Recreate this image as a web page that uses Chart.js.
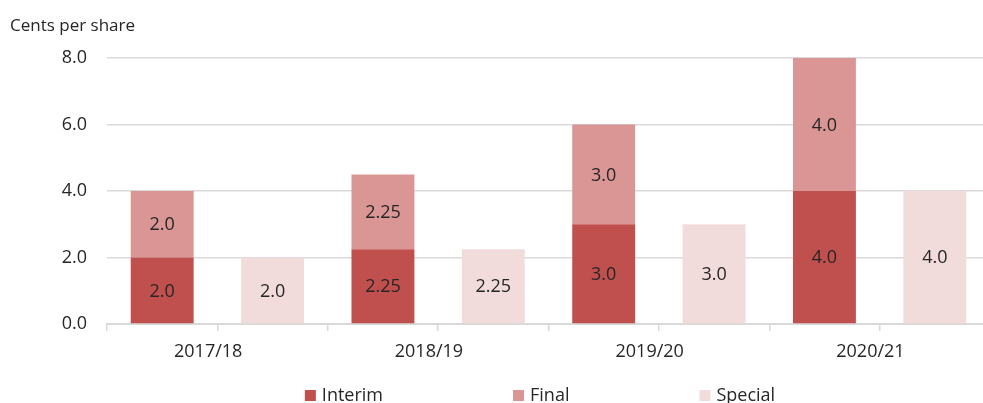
<!DOCTYPE html>
<html>
<head>
<meta charset="utf-8">
<script src="https://cdn.jsdelivr.net/npm/chart.js@4.4.1/dist/chart.umd.min.js"></script>
<style>
  html, body { margin: 0; padding: 0; background: #fff; overflow: hidden; }
  #wrap { width: 983px; height: 403px; overflow: hidden; position: relative; }
  #dividends { display: block; }
</style>
</head>
<body>
<div id="wrap"><canvas id="dividends" width="993" height="420"></canvas></div>
<script>
var years = ['2017/18', '2018/19', '2019/20', '2020/21'];
var interim = [2.0, 2.25, 3.0, 4.0];
var finalDiv = [2.0, 2.25, 3.0, 4.0];
var special = [2.0, 2.25, 3.0, 4.0];
var yTicks = [0, 2, 4, 6, 8];

var seriesNames = ['Interim', 'Final', 'Special'];
var seriesColors = ['#C0504D', '#DA9694', '#F2DCDB'];
var textColor = '#262626';
var gridColor = '#d9d9d9';

Chart.defaults.font.family = '"Open Sans", "Noto Sans", sans-serif';
Chart.defaults.font.size = 18;
Chart.defaults.color = textColor;

// each year gets two slots: the stacked interim/final bar, then the special bar
var slots = [];
var interimSlots = [], finalSlots = [], specialSlots = [];
years.forEach(function (y, i) {
    slots.push(y, '');
    interimSlots.push(interim[i], null);
    finalSlots.push(finalDiv[i], null);
    specialSlots.push(null, special[i]);
});

var fmt = function (v) {
    return (Math.round(v * 10) !== v * 10) ? v.toFixed(2) : v.toFixed(1);
};

var labelPlugin = {
    id: 'barLabels',
    afterDatasetsDraw: function (chart) {
        var ctx = chart.ctx;
        ctx.save();
        ctx.font = '18px "Open Sans", "Noto Sans", sans-serif';
        ctx.fillStyle = textColor;
        ctx.textAlign = 'center';
        ctx.textBaseline = 'middle';
        chart.data.datasets.forEach(function (ds, i) {
            chart.getDatasetMeta(i).data.forEach(function (bar, j) {
                var v = ds.data[j];
                if (v == null) return;
                var c = bar.getCenterPoint();
                ctx.fillText(fmt(v), c.x, c.y + 1);
            });
        });
        ctx.restore();
    },
    afterDraw: function (chart) {
        var ctx = chart.ctx;
        ctx.save();
        // axis title
        ctx.font = '17px "Open Sans", "Noto Sans", sans-serif';
        ctx.fillStyle = textColor;
        ctx.textAlign = 'left';
        ctx.textBaseline = 'alphabetic';
        ctx.fillText('Cents per share', 10, 31);

        // legend
        ctx.font = '18px "Open Sans", "Noto Sans", sans-serif';
        var box = 11, gap = 6, spacing = 130;
        var widths = seriesNames.map(function (n) { return box + gap + ctx.measureText(n).width; });
        var total = widths.reduce(function (a, b) { return a + b; }, 0) + spacing * (widths.length - 1);
        var x = 540 - total / 2;
        seriesNames.forEach(function (n, i) {
            ctx.fillStyle = seriesColors[i];
            ctx.fillRect(x, 390, box, box);
            ctx.fillStyle = textColor;
            ctx.fillText(n, x + box + gap, 401);
            x += widths[i] + spacing;
        });
        ctx.restore();
    }
};

new Chart(document.getElementById('dividends'), {
    type: 'bar',
    data: {
        labels: slots,
        datasets: [
            { label: seriesNames[0], data: interimSlots, backgroundColor: seriesColors[0] },
            { label: seriesNames[1], data: finalSlots, backgroundColor: seriesColors[1] },
            { label: seriesNames[2], data: specialSlots, backgroundColor: seriesColors[2] }
        ]
    },
    options: {
        responsive: false,
        animation: false,
        layout: { padding: { left: 0, right: 3, top: 58, bottom: 56 } },
        datasets: { bar: { categoryPercentage: 1.0, barPercentage: 0.57, skipNull: true } },
        plugins: { legend: { display: false }, tooltip: { enabled: false } },
        scales: {
            x: {
                stacked: true,
                grid: { offset: true, drawOnChartArea: false, drawTicks: true, tickLength: 7, color: gridColor, lineWidth: 1.5 },
                border: { display: true, color: gridColor, width: 2 },
                ticks: {
                    autoSkip: false, maxRotation: 0, padding: 10, labelOffset: 46,
                    color: textColor, font: { size: 18 }
                },
                afterFit: function (scale) { scale.height = 40; }
            },
            y: {
                stacked: true,
                min: 0, max: 8,
                afterBuildTicks: function (scale) {
                    scale.ticks = yTicks.map(function (v) { return { value: v }; });
                },
                grid: { drawTicks: false, color: gridColor, lineWidth: 1.5 },
                border: { display: false },
                ticks: {
                    padding: 20, color: textColor, font: { size: 18 },
                    callback: function (v) { return v.toFixed(1); }
                },
                afterFit: function (scale) { scale.width = 107; }
            }
        }
    },
    plugins: [labelPlugin]
});
</script>
</body>
</html>
